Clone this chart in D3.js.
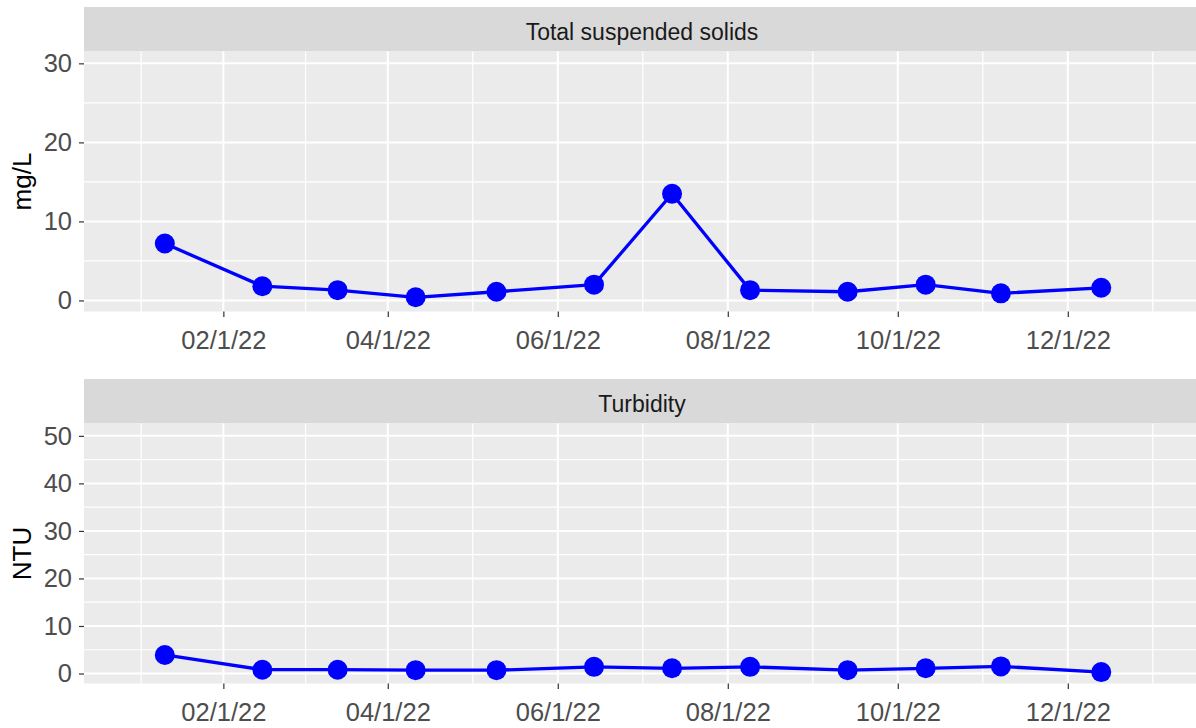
<!DOCTYPE html>
<html>
<head>
<meta charset="utf-8">
<script src="https://cdn.jsdelivr.net/npm/d3@7"></script>
<style>
  body { margin: 0; background: #fff; }
  svg { display: block; font-family: 'Liberation Sans', Arial, sans-serif; }
</style>
</head>
<body>
<svg id="chart" width="1196" height="728"></svg>
<script>
/* global d3 */

// sample dates (shared by both panels)
const sampleDates = ['2022-01-11', '2022-02-15', '2022-03-14', '2022-04-11', '2022-05-10', '2022-06-14',
  '2022-07-12', '2022-08-09', '2022-09-13', '2022-10-11', '2022-11-07', '2022-12-13']

const tssValues = [7.2, 1.8, 1.3, 0.4, 1.1, 2.0, 13.5, 1.3, 1.1, 2.0, 0.9, 1.6]
const turbidityValues = [3.9, 0.8, 0.8, 0.7, 0.7, 1.4, 1.1, 1.4, 0.7, 1.1, 1.5, 0.3]

const xTickDates = ['2022-02-01', '2022-04-01', '2022-06-01', '2022-08-01', '2022-10-01', '2022-12-01']
const xTickLabels = ['02/1/22', '04/1/22', '06/1/22', '08/1/22', '10/1/22', '12/1/22']
const xLimits = ['2021-12-13', '2023-01-16']

const tssTicks = [0, 10, 20, 30]
const turbidityTicks = [0, 10, 20, 30, 40, 50]

const panels = [
  { title: 'Total suspended solids', yTitle: 'mg/L', values: tssValues, ticks: tssTicks, domain: [-1.4, 31.5], top: 7 },
  { title: 'Turbidity', yTitle: 'NTU', values: turbidityValues, ticks: turbidityTicks, domain: [-2.1, 52.6], top: 379 }
]

const parse = d3.utcParse('%Y-%m-%d')
const left = 84
const right = 1196
const stripH = 44.5
const panelH = 260

const svg = d3.select('#chart')

const x = d3.scaleUtc()
  .domain(xLimits.map(parse))
  .range([left, right])

const majors = xTickDates.map(parse)
// ggplot-style minor breaks: midpoints, plus half a step beyond each end
const minors = []
minors.push(new Date(+majors[0] - (majors[1] - majors[0]) / 2))
for (let i = 0; i < majors.length - 1; i++) {
  minors.push(new Date((+majors[i] + +majors[i + 1]) / 2))
}
const n = majors.length
minors.push(new Date(+majors[n - 1] + (majors[n - 1] - majors[n - 2]) / 2))

panels.forEach(p => {
  const stripTop = p.top
  const pTop = stripTop + stripH
  const pBottom = pTop + panelH

  const y = d3.scaleLinear().domain(p.domain).range([pBottom, pTop])
  const g = svg.append('g')

  // strip
  g.append('rect')
    .attr('x', left).attr('y', stripTop)
    .attr('width', right - left).attr('height', stripH)
    .attr('fill', '#D9D9D9')
  g.append('text')
    .attr('x', (left + right) / 2 + 2)
    .attr('y', stripTop + stripH / 2 + 2)
    .attr('dy', '0.36em')
    .attr('text-anchor', 'middle')
    .attr('font-size', 23)
    .attr('fill', '#1A1A1A')
    .text(p.title)

  // panel background
  g.append('rect')
    .attr('x', left).attr('y', pTop)
    .attr('width', right - left).attr('height', panelH)
    .attr('fill', '#EBEBEB')

  const yMinors = p.ticks.slice(0, -1).map((t, i) => (t + p.ticks[i + 1]) / 2)

  // minor grid
  g.selectAll('.ymin').data(yMinors).enter().append('line')
    .attr('x1', left).attr('x2', right)
    .attr('y1', d => y(d)).attr('y2', d => y(d))
    .attr('stroke', '#fff').attr('stroke-width', 1.2)
  g.selectAll('.xmin').data(minors).enter().append('line')
    .attr('x1', d => x(d)).attr('x2', d => x(d))
    .attr('y1', pTop).attr('y2', pBottom)
    .attr('stroke', '#fff').attr('stroke-width', 1.2)

  // major grid
  g.selectAll('.ymaj').data(p.ticks).enter().append('line')
    .attr('x1', left).attr('x2', right)
    .attr('y1', d => y(d)).attr('y2', d => y(d))
    .attr('stroke', '#fff').attr('stroke-width', 2)
  g.selectAll('.xmaj').data(majors).enter().append('line')
    .attr('x1', d => x(d)).attr('x2', d => x(d))
    .attr('y1', pTop).attr('y2', pBottom)
    .attr('stroke', '#fff').attr('stroke-width', 2)

  // y axis
  const yAxis = g.append('g')
    .attr('transform', 'translate(' + left + ',0)')
    .call(d3.axisLeft(y).tickValues(p.ticks).tickSize(5).tickPadding(7))
  yAxis.select('.domain').remove()
  yAxis.selectAll('.tick line').attr('stroke', '#333').attr('stroke-width', 1.2)
  yAxis.selectAll('.tick text')
    .attr('font-size', 25.5).attr('fill', '#4D4D4D')
    .attr('font-family', "'Liberation Sans', Arial, sans-serif")

  // x axis
  const xAxis = g.append('g')
    .attr('transform', 'translate(0,' + pBottom + ')')
    .call(d3.axisBottom(x).tickValues(majors).tickFormat((d, i) => xTickLabels[i]).tickSize(5.5).tickPadding(14))
  xAxis.select('.domain').remove()
  xAxis.selectAll('.tick line').attr('stroke', '#333').attr('stroke-width', 1.2)
  xAxis.selectAll('.tick text')
    .attr('font-size', 25.5).attr('fill', '#4D4D4D')
    .attr('font-family', "'Liberation Sans', Arial, sans-serif")

  // y title
  g.append('text')
    .attr('transform', 'translate(22,' + (pTop + pBottom) / 2 + ') rotate(-90)')
    .attr('dy', '0.36em')
    .attr('text-anchor', 'middle')
    .attr('font-size', 26)
    .attr('fill', '#000')
    .text(p.yTitle)

  const pts = sampleDates.map((d, i) => ({ date: parse(d), value: p.values[i] }))

  const line = d3.line()
    .x(d => x(d.date))
    .y(d => y(d.value))

  g.append('path')
    .datum(pts)
    .attr('d', line)
    .attr('fill', 'none')
    .attr('stroke', '#0000FF')
    .attr('stroke-width', 3.3)
    .attr('stroke-linejoin', 'round')

  g.selectAll('.pt').data(pts).enter().append('circle')
    .attr('cx', d => x(d.date))
    .attr('cy', d => y(d.value))
    .attr('r', 10)
    .attr('fill', '#0000FF')
})
</script>
</body>
</html>
